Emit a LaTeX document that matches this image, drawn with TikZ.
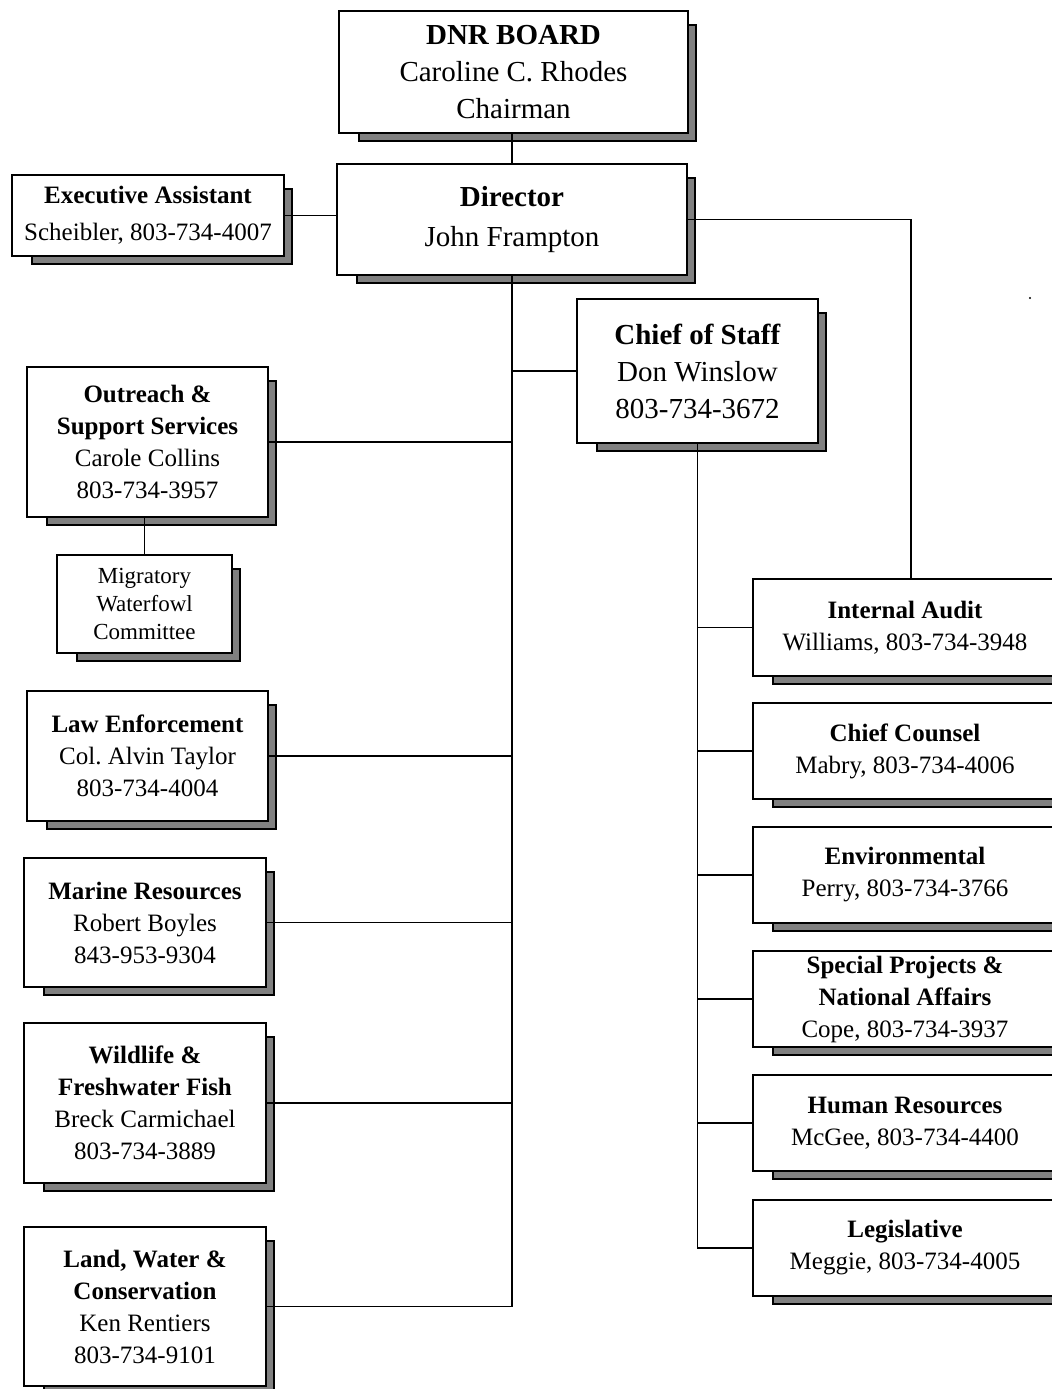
\documentclass[tikz,border=0pt]{standalone}
\usepackage{fontspec}
\setmainfont{Liberation Serif}
\usetikzlibrary{positioning,backgrounds}
\frenchspacing

\begin{document}
\begin{tikzpicture}[
    x=0.5pt, y=-0.5pt,
    orgbox/.style={draw, rectangle, fill=white, line width=0.9pt, inner sep=0pt, outer sep=0pt,
        align=center, anchor=north west, font={\fontsize{12.5}{16}\selectfont}},
    topbox/.style={orgbox, font={\fontsize{14.5}{18.5}\selectfont}},
    smallbox/.style={orgbox, font={\fontsize{11.5}{14}\selectfont}},
    boxsize/.style 2 args={minimum width=#1*0.5pt, minimum height=#2*0.5pt},
    dropshade/.style={draw, fill=black!50, line width=0.8pt},
    link/.style={line width=0.9pt}
]
\path[use as bounding box] (0,0) rectangle (1052,1389);

% --- Board and Director ---
\node[topbox, boxsize={349}{122}] (board) at (339,11)
  {\textbf{DNR BOARD}\\Caroline C. Rhodes\\Chairman};
\node[topbox, boxsize={350}{111}] (director) at (337,164)
  {\textbf{Director}\\[1.5pt]John Frampton};
\node[orgbox, boxsize={272}{81}] (exec) at (12,175)
  {\textbf{Executive Assistant}\\[2.5pt]Scheibler, 803-734-4007};
\node[topbox, boxsize={241}{144}] (staff) at (577,299)
  {\textbf{Chief of Staff}\\Don Winslow\\803-734-3672};

% --- Divisions ---
\node[orgbox, boxsize={241}{150}] (outreach) at (27,367)
  {\textbf{Outreach \&}\\\textbf{Support Services}\\Carole Collins\\803-734-3957};
\node[smallbox, boxsize={175}{98}] (waterfowl) at (57,555)
  {Migratory\\Waterfowl\\Committee};
\node[orgbox, boxsize={241}{130}] (law) at (27,691)
  {\textbf{Law Enforcement}\\Col. Alvin Taylor\\803-734-4004};
\node[orgbox, boxsize={242}{129}] (marine) at (24,858)
  {\textbf{Marine Resources}\\Robert Boyles\\843-953-9304};
\node[orgbox, boxsize={242}{160}] (wildlife) at (24,1023)
  {\textbf{Wildlife \&}\\\textbf{Freshwater Fish}\\Breck Carmichael\\803-734-3889};
\node[orgbox, boxsize={242}{159}] (land) at (24,1227)
  {\textbf{Land, Water \&}\\\textbf{Conservation}\\Ken Rentiers\\803-734-9101};

% --- Staff offices ---
\node[orgbox, boxsize={304}{97}] (audit) at (753,579)
  {\textbf{Internal Audit}\\Williams, 803-734-3948};
\node[orgbox, boxsize={304}{96}] (counsel) at (753,703)
  {\textbf{Chief Counsel}\\Mabry, 803-734-4006};
\node[orgbox, boxsize={304}{96}] (environ) at (753,827)
  {\textbf{Environmental}\\Perry, 803-734-3766};
\node[orgbox, boxsize={304}{96}] (special) at (753,951)
  {\textbf{Special Projects \&}\\\textbf{National Affairs}\\Cope, 803-734-3937};
\node[orgbox, boxsize={304}{96}] (humanres) at (753,1075)
  {\textbf{Human Resources}\\McGee, 803-734-4400};
\node[orgbox, boxsize={304}{96}] (legis) at (753,1200)
  {\textbf{Legislative}\\Meggie, 803-734-4005};

% --- Shadows ---
\begin{scope}[on background layer]
  \fill[white] (0,0) rectangle (1052,1389);
  \foreach \n in {board,director,exec,staff,outreach,waterfowl,law,marine,wildlife,land,
                  audit,counsel,environ,special,humanres,legis}
    \draw[dropshade] ([shift={(20,14)}]\n.north west) rectangle ([shift={(8,8)}]\n.south east);
\end{scope}

% --- Lines ---
\coordinate (auditin) at (911,579);
\draw[link] (director.north) -- (director.north |- board.south);
\draw[link] (exec.east) -- (exec.east -| director.west);
\draw[link] (director.east) -| (auditin);
\draw[link] (director.south) |- (land.east);
\draw[link] (staff.west) -- (staff.west -| director.south);
\foreach \n in {outreach,law,marine,wildlife}
  \draw[link] (\n.east) -- (\n.east -| director.south);
\draw[link] (waterfowl.north) -- (waterfowl.north |- outreach.south);
\draw[link] (staff.south) |- (legis.west);
\foreach \n in {audit,counsel,environ,special,humanres}
  \draw[link] (\n.west) -- (\n.west -| staff.south);

\fill (1030,298) circle (0.6pt);

\end{tikzpicture}
\end{document}
